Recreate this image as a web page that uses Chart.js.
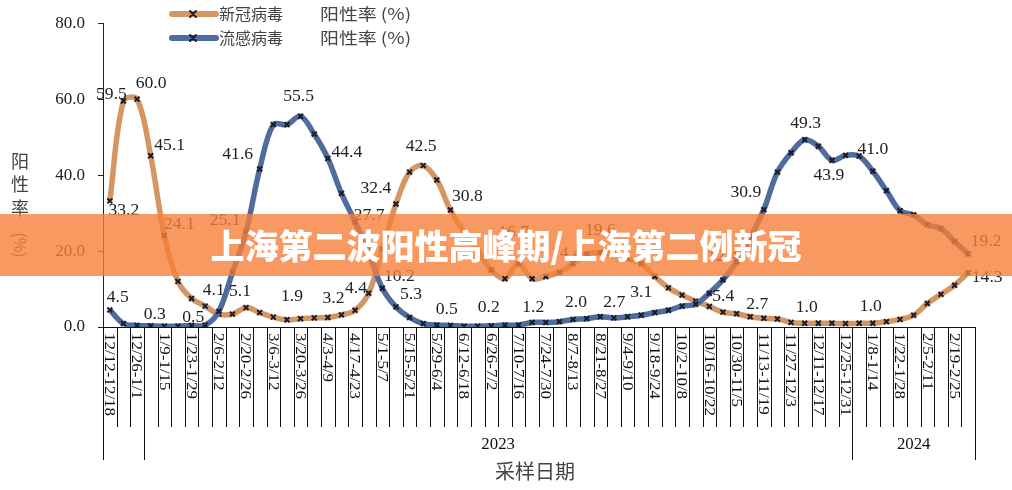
<!DOCTYPE html>
<html>
<head>
<meta charset="utf-8">
<script src="https://cdn.jsdelivr.net/npm/chart.js@4/dist/chart.umd.min.js"></script>
<style>
  body { margin: 0; background: #fff; }
  #wrap { position: relative; width: 1012px; height: 490px; }
  #banner {
    position: absolute; left: 0; top: 214px; width: 1012px; height: 62px;
    background: rgba(245, 128, 58, 0.8);
    color: #fff; text-align: center; line-height: 62px;
    font-family: "Noto Sans CJK SC", sans-serif; font-weight: 900;
    font-size: 34px; letter-spacing: 0;
  }
</style>
</head>
<body>
<div id="wrap">
  <canvas id="chart" width="1012" height="490"></canvas>
  <div id="banner">上海第二波阳性高峰期/上海第二例新冠</div>
</div>
<script>
// tick labels shown on every second week
const tickLabels = ['12/12-12/18', '12/26-1/1', '1/9-1/15', '1/23-1/29', '2/6-2/12', '2/20-2/26',
  '3/6-3/12', '3/20-3/26', '4/3-4/9', '4/17-4/23', '5/1-5/7', '5/15-5/21', '5/29-6/4', '6/12-6/18',
  '6/26-7/2', '7/10-7/16', '7/24-7/30', '8/7-8/13', '8/21-8/27', '9/4-9/10', '9/18-9/24', '10/2-10/8',
  '10/16-10/22', '10/30-11/5', '11/13-11/19', '11/27-12/3', '12/11-12/17', '12/25-12/31', '1/8-1/14',
  '1/22-1/28', '2/5-2/11', '2/19-2/25'];
const weekCount = 64;
const years = ['2023', '2024'];
const yearStarts = [3, 55];   // first week (category index) of each year

// positivity rate (%), one value per week
const covidRate = [33.2, 59.5, 60.0, 45.1, 24.1, 12.0, 7.5, 5.5, 3.4, 3.4,
  5.1, 3.8, 2.6, 1.9, 2.2, 2.4, 2.5, 3.2, 4.4, 8.9,
  20.5, 32.4, 40.8, 42.5, 38.7, 30.8, 25.0, 20.2, 15.0, 12.7,
  16.7, 12.7, 13.3, 14.4, 16.7, 19.2, 19.6, 18.9, 18.0, 16.7,
  13.3, 10.3, 8.4, 6.8, 5.4, 3.9, 3.5, 2.7, 2.3, 2.1,
  1.2, 1.0, 1.0, 1.0, 0.9, 1.0, 1.0, 1.4, 2.0, 3.1,
  6.2, 8.6, 11.0, 14.3];
const fluRate = [4.5, 0.9, 0.4, 0.3, 0.2, 0.2, 0.4, 0.5, 4.1, 14.4,
  25.1, 41.6, 53.3, 53.3, 55.5, 50.8, 44.4, 35.2, 27.7, 19.5,
  10.2, 5.3, 2.5, 0.9, 0.5, 0.4, 0.2, 0.2, 0.3, 0.5,
  0.5, 1.2, 1.2, 1.4, 2.0, 2.2, 2.7, 2.4, 2.7, 3.1,
  3.8, 4.4, 5.5, 6.0, 8.9, 12.4, 17.1, 23.5, 30.9, 40.8,
  45.9, 49.3, 47.6, 43.9, 45.2, 45.0, 41.0, 35.9, 30.6, 29.5,
  26.9, 25.9, 22.5, 19.2];

// which points carry a value label: [week index, dx, dy]
const covidLabelSpots = [[0, 14, 10], [1, -12, -6], [2, 14, -15], [3, 19, -10], [4, 15, -11],
  [10, -6, -16], [13, 5, -23], [17, -8, -16], [18, 1, -21], [21, -20, -15], [23, -2, -19],
  [25, 17, -13], [30, -5, -31], [33, 7, -19], [36, 0, -22], [44, 14, -10], [47, 7, -12],
  [51, 2, -15], [56, -2, -16], [63, 19, 5]];
const fluLabelSpots = [[0, 8, -12], [3, 4, -11], [7, -12, -7], [8, -5, -21], [10, -21, -11],
  [11, -22, -14], [14, -2, -19], [16, 19, -6], [18, 14, -6], [20, 17, -11], [21, 15, -12],
  [24, 10, -15], [27, 11, -18], [31, 1, -15], [34, 3, -17], [36, 14, -14], [39, 0, -22],
  [45, 0, -23], [48, -18, -17], [51, 1, -16], [53, -3, 16], [56, 0, -22], [63, 18, -12]];

const categories = [];
for (let i = 0; i < weekCount; i++) categories.push(i % 2 === 0 && tickLabels[i / 2] ? tickLabels[i / 2] : '');

const covidColor = 'rgb(212,150,98)';
const fluColor = 'rgb(78,108,158)';
const markColor = '#1c1c2c';
const serif = '"Liberation Serif", "Times New Roman", serif';
const cjk = '"Noto Sans CJK SC", sans-serif';

function txt(ctx, s, x, y, font, color, align, sx) {
  ctx.save();
  ctx.translate(x, y);
  ctx.scale(sx || 1, 1);
  ctx.font = font;
  ctx.fillStyle = color;
  ctx.textAlign = align || 'center';
  ctx.textBaseline = 'middle';
  ctx.fillText(s, 0, 0);
  ctx.restore();
}

const decor = {
  id: 'decor',
  afterDatasetsDraw(chart) {
    const { ctx, scales: { x, y } } = chart;
    // value labels
    const sets = [[covidRate, covidLabelSpots], [fluRate, fluLabelSpots]];
    sets.forEach(([vals, spots]) => {
      spots.forEach(([i, dx, dy]) => {
        txt(ctx, vals[i].toFixed(1), x.getPixelForValue(i) + dx, y.getPixelForValue(vals[i]) + dy,
          '16px ' + serif, '#222', 'center', 1.1);
      });
    });
  },
  afterDraw(chart) {
    const { ctx, chartArea: a, scales: { x, y } } = chart;
    const half = (x.getPixelForValue(1) - x.getPixelForValue(0)) / 2;
    const edge = i => x.getPixelForValue(i) - half;

    // category axis
    ctx.save();
    ctx.strokeStyle = '#111';
    ctx.lineWidth = 1;
    ctx.beginPath();
    ctx.moveTo(a.left, a.bottom + 0.5);
    ctx.lineTo(a.right, a.bottom + 0.5);
    const longEdges = [0, weekCount].concat(yearStarts);
    for (let i = 0; i <= weekCount; i++) {
      const px = Math.round(edge(i)) + 0.5;
      ctx.moveTo(px, a.bottom);
      ctx.lineTo(px, longEdges.includes(i) ? a.bottom + 133 : a.bottom + 100);
    }
    ctx.stroke();
    ctx.restore();

    // rotated week labels
    categories.forEach((lab, i) => {
      if (!lab) return;
      ctx.save();
      ctx.translate(x.getPixelForValue(i) - 1, a.bottom + 6);
      ctx.rotate(Math.PI / 2);
      ctx.scale(1, 0.85);
      ctx.font = '17px ' + serif;
      ctx.fillStyle = '#111';
      ctx.textAlign = 'left';
      ctx.textBaseline = 'middle';
      ctx.fillText(lab, 0, 0);
      ctx.restore();
    });

    // year row
    years.forEach((yr, k) => {
      const from = edge(yearStarts[k]);
      const to = k + 1 < yearStarts.length ? edge(yearStarts[k + 1]) : edge(weekCount);
      txt(ctx, yr, (from + to) / 2, a.bottom + 118, '16px ' + serif, '#111', 'center', 1.05);
    });

    // axis titles
    txt(ctx, '采样日期', (a.left + a.right) / 2 - 4, a.bottom + 144, '20px ' + cjk, '#444');
    ['阳', '性', '率'].forEach((c, k) => txt(ctx, c, 20, 161 + k * 23.5, '18px ' + cjk, '#444'));
    ctx.save();
    ctx.translate(20, 245);
    ctx.rotate(Math.PI / 2);
    txt(ctx, '(%)', 0, 0, '16px ' + cjk, '#444');
    ctx.restore();

    // legend
    chart.data.datasets.slice().reverse().forEach((ds, k) => {
      const ly = 14 + k * 24;
      ctx.save();
      ctx.strokeStyle = ds.borderColor;
      ctx.lineWidth = 6;
      ctx.lineCap = 'round';
      ctx.beginPath();
      ctx.moveTo(172, ly);
      ctx.lineTo(216, ly);
      ctx.stroke();
      ctx.strokeStyle = markColor;
      ctx.lineWidth = 2;
      ctx.beginPath();
      ctx.moveTo(190, ly - 3); ctx.lineTo(196, ly + 3);
      ctx.moveTo(196, ly - 3); ctx.lineTo(190, ly + 3);
      ctx.stroke();
      ctx.restore();
      const parts = ds.label.split(' ');
      txt(ctx, parts[0], 219, ly, '16px ' + cjk, '#444', 'left', 1.0);
      txt(ctx, parts[1].replace('(', ' ('), 320, ly, '16px ' + cjk, '#444', 'left', 1.18);
    });
  }
};

new Chart(document.getElementById('chart').getContext('2d'), {
  type: 'line',
  data: {
    labels: categories,
    datasets: [{
      label: '流感病毒 阳性率(%)',
      data: fluRate,
      borderColor: fluColor,
      borderWidth: 5.5,
      tension: 0.35,
      pointStyle: 'crossRot',
      pointRadius: 3.5,
      pointBorderWidth: 2,
      pointBorderColor: markColor
    }, {
      label: '新冠病毒 阳性率(%)',
      data: covidRate,
      borderColor: covidColor,
      borderWidth: 5.5,
      tension: 0.35,
      pointStyle: 'crossRot',
      pointRadius: 3.5,
      pointBorderWidth: 2,
      pointBorderColor: markColor
    }]
  },
  options: {
    responsive: false,
    animation: false,
    layout: { padding: { left: 0, right: 37, top: 14, bottom: 163 } },
    plugins: { legend: { display: false }, tooltip: { enabled: false } },
    scales: {
      x: { display: false, offset: true },
      y: {
        min: 0, max: 80,
        ticks: {
          stepSize: 20,
          callback: v => v.toFixed(1),
          font: { family: serif, size: 17 },
          color: '#222',
          padding: 13
        },
        grid: { drawOnChartArea: false, tickLength: 5, color: '#222' },
        border: { color: '#222' },
        afterFit(s) { s.width = 103; }
      }
    }
  },
  plugins: [decor]
});
</script>
</body>
</html>
